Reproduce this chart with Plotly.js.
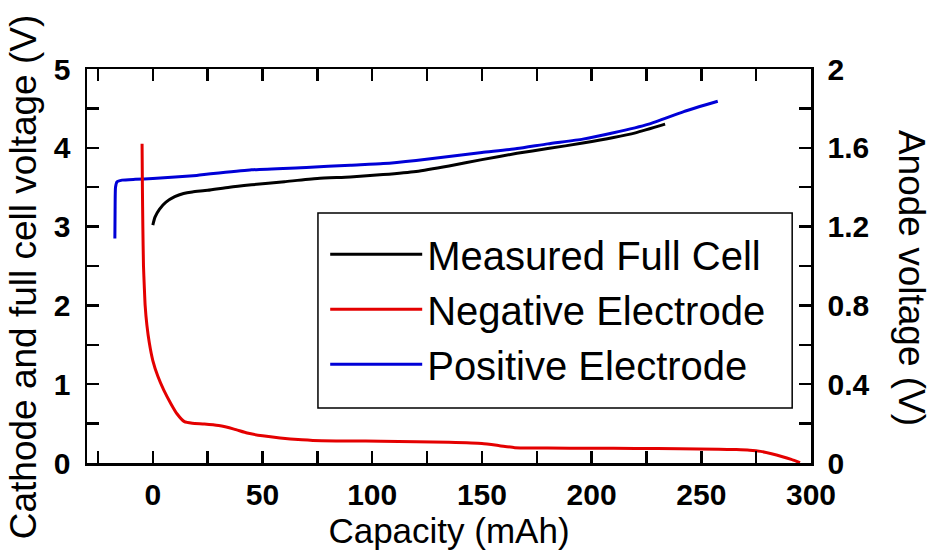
<!DOCTYPE html>
<html>
<head>
<meta charset="utf-8">
<script src="https://cdn.plot.ly/plotly-3.0.1.min.js"></script>
<style>html,body{margin:0;padding:0;background:#fff;}#chart{width:933px;height:557px;}</style>
</head>
<body>
<div id="chart"></div>
<script>
// Measured Full Cell (left axis, V)
const fullCellCapacity = [0, 1, 3, 6, 10, 14, 18, 25, 35, 45, 60, 75, 90, 105, 120, 135, 150, 166, 180, 196, 210, 220, 233.5];
const fullCellVoltage  = [3.02, 3.12, 3.22, 3.31, 3.38, 3.42, 3.44, 3.46, 3.50, 3.53, 3.57, 3.61, 3.63, 3.66, 3.70, 3.77, 3.85, 3.93, 3.99, 4.06, 4.13, 4.19, 4.30];

// Positive Electrode (left axis, V)
const positiveCapacity = [-17.3, -17.2, -17.0, -16.3, -14, -8, 0, 20, 45, 70, 90, 105, 120, 135, 150, 166, 180, 196, 210, 226, 242, 257.5];
const positiveVoltage  = [2.85, 3.2, 3.5, 3.57, 3.59, 3.60, 3.61, 3.65, 3.72, 3.75, 3.78, 3.80, 3.84, 3.89, 3.94, 3.99, 4.05, 4.11, 4.19, 4.30, 4.46, 4.59];

// Negative Electrode (right axis, anode V)
const negativeCapacity = [-4.9, -4.75, -4.55, -4.25, -3.9, -3.5, -2.7, -1.6, 0, 2.3, 5, 8.3, 11, 14.4, 18, 23.5, 30, 37, 43, 50, 58, 68, 77, 90, 104, 120, 135, 150, 158, 165, 180, 200, 220, 240, 258, 266, 272, 277, 282, 287, 291, 295];
const negativeVoltage  = [1.62, 1.4, 1.2, 1.0, 0.9, 0.8, 0.7, 0.61, 0.52, 0.44, 0.37, 0.30, 0.25, 0.21, 0.202, 0.198, 0.19, 0.172, 0.152, 0.138, 0.127, 0.118, 0.113, 0.112, 0.111, 0.108, 0.105, 0.099, 0.088, 0.078, 0.076, 0.075, 0.074, 0.072, 0.070, 0.068, 0.065, 0.059, 0.047, 0.032, 0.018, 0.002];

const seriesNames = ['Measured Full Cell', 'Negative Electrode', 'Positive Electrode'];
const xTitle = 'Capacity (mAh)';
const yTitle = 'Cathode and full cell voltage (V)';
const y2Title = 'Anode voltage (V)';

const FONT = 'Liberation Sans, Arial, sans-serif';

const traces = [
  {x: fullCellCapacity, y: fullCellVoltage, name: seriesNames[0], type: 'scatter', mode: 'lines',
   line: {color: '#000000', width: 3, shape: 'spline', smoothing: 0.6}, yaxis: 'y', legendgroup: 'a'},
  {x: negativeCapacity, y: negativeVoltage, name: seriesNames[1], type: 'scatter', mode: 'lines',
   line: {color: 'rgb(228,0,0)', width: 3, shape: 'spline', smoothing: 0.5}, yaxis: 'y2', legendgroup: 'b'},
  {x: positiveCapacity, y: positiveVoltage, name: seriesNames[2], type: 'scatter', mode: 'lines',
   line: {color: 'rgb(0,0,215)', width: 3, shape: 'spline', smoothing: 0.5}, yaxis: 'y', legendgroup: 'c'}
];

const axisCommon = {
  showline: true, linecolor: '#000', linewidth: 2.5,
  ticks: 'inside', ticklen: 12, tickwidth: 2.5, tickcolor: '#000',
  showgrid: false, zeroline: false,
  tickfont: {family: FONT, size: 30, color: '#000', weight: 'bold'}
};

const layout = {
  width: 933, height: 557,
  margin: {l: 87, r: 122, t: 69, b: 94},
  paper_bgcolor: '#fff', plot_bgcolor: '#fff',
  showlegend: true,
  legend: {
    x: 0.329, y: 0.612, xanchor: 'left', yanchor: 'top',
    bgcolor: 'rgba(0,0,0,0)', borderwidth: 0,
    font: {family: FONT, size: 40, color: '#000'},
    itemwidth: 92, tracegroupgap: 7, traceorder: 'normal'
  },
  shapes: [
    // legend frame
    {type: 'rect', xref: 'paper', yref: 'paper', x0: 0.319, x1: 0.974, y0: 0.1396, y1: 0.6345,
     line: {color: '#000', width: 1.5}, fillcolor: '#fff', layer: 'above'}
  ],
  xaxis: Object.assign({}, axisCommon, {
    range: [-30, 300], tick0: 0, dtick: 50, mirror: 'ticks',
    minor: {dtick: 25, tick0: 0, ticks: 'inside', ticklen: 12, tickwidth: 2.5, tickcolor: '#000'},
    title: {text: xTitle, font: {family: FONT, size: 35, color: '#000'}, standoff: 0},
    ticklabelstandoff: 3
  }),
  yaxis: Object.assign({}, axisCommon, {
    range: [0, 5], tick0: 0, dtick: 1, mirror: false,
    minor: {dtick: 0.5, tick0: 0, ticks: 'inside', ticklen: 12, tickwidth: 2.5, tickcolor: '#000'},
    title: {text: yTitle, font: {family: FONT, size: 37, color: '#000'}, standoff: 6},
    ticklabelstandoff: 8
  }),
  yaxis2: Object.assign({}, axisCommon, {
    range: [0, 2], tick0: 0, dtick: 0.4, overlaying: 'y', side: 'right',
    minor: {dtick: 0.2, tick0: 0, ticks: 'inside', ticklen: 12, tickwidth: 2.5, tickcolor: '#000'},
    title: {text: y2Title, font: {family: FONT, size: 37, color: '#000'}, standoff: 8},
    ticklabelstandoff: 8
  })
};

Plotly.newPlot('chart', traces, layout, {displayModeBar: false, staticPlot: true}).then(function () {
  // left title: shift its centre slightly lower, as in the reference
  const lt = document.querySelector('.g-ytitle');
  if (lt) lt.setAttribute('transform', 'translate(0,11)');
  // right title: reads top-to-bottom in the reference
  const t = document.querySelector('.g-y2title text');
  if (t) {
    const x = parseFloat(t.getAttribute('x')), y = parseFloat(t.getAttribute('y'));
    t.setAttribute('transform', 'rotate(90,' + x + ',' + y + ')');
    const g = document.querySelector('.g-y2title');
    g.setAttribute('transform', 'translate(' + (899 - x) + ',' + (278 - y) + ')');
  }
});
</script>
</body>
</html>
